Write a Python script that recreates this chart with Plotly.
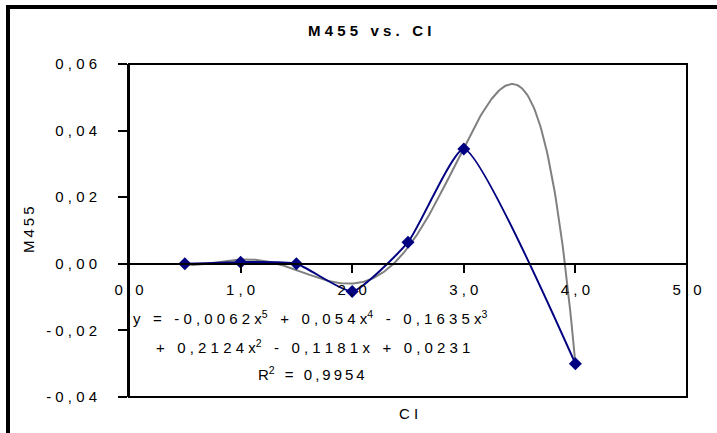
import numpy as np
import plotly.graph_objects as go

# Measured series
ci = [0.5, 1.0, 1.5, 2.0, 2.5, 3.0, 4.0]
m455 = [0.0, 0.0005, 0.0, -0.0083, 0.0065, 0.0345, -0.0300]

x_ticks = [0, 1, 2, 3, 4, 5]
y_ticks = [-0.04, -0.02, 0.0, 0.02, 0.04, 0.06]

title_text = "M455 vs. CI"
x_title = "CI"
y_title = "M455"
eq_line1 = [("y = -0,0062x", "5"), (" + 0,054x", "4"), (" - 0,1635x", "3")]
eq_line2 = [("+ 0,2124x", "2"), (" - 0,1181x + 0,0231", "")]
r2_line = [("R", "2"), (" = 0,9954", "")]

FONT = "Liberation Sans, Arial, sans-serif"
NAVY = "#000080"
GREY = "#808080"
WIDE = "\u00a0"     # letter gap for tracked text
NARROW = "\u2009"

# canvas / plot-area geometry in pixels
WIDTH, HEIGHT = 717, 433
ML, MR, MT, MB = 129, 30, 64, 36
PW = WIDTH - ML - MR
PH = HEIGHT - MT - MB


def px_x(px):
    return (px - ML) / PW


def px_y(py):
    return (HEIGHT - MB - py) / PH


def spaced(s, gap=WIDE):
    """Widely tracked text, in the style of the chart's lettering."""
    return gap.join("\u00a0" if c == " " else c for c in s)


def spaced_parts(parts, gap=WIDE):
    out = ""
    for txt, sup in parts:
        out += spaced(txt, gap)
        if sup:
            out += "<sup>" + sup + "</sup>" + gap
    return out.rstrip(gap)


def fmt(v, nd):
    return spaced(f"{v:.{nd}f}".replace(".", ","))


def label(text, px, py, **kw):
    return dict(text=text, x=px_x(px), y=px_y(py), xref="paper", yref="paper",
                xanchor="center", yanchor="middle", showarrow=False,
                font=dict(size=15), **kw)


# polynomial trendline (order 5) fitted to the measured points
coef = np.polyfit(ci, m455, 5)
xt = np.linspace(min(ci), max(ci), 300)
yt = np.polyval(coef, xt)

fig = go.Figure()
fig.add_trace(go.Scatter(
    x=xt, y=yt, mode="lines",
    line=dict(color=GREY, width=2),
    showlegend=False, hoverinfo="skip",
))
fig.add_trace(go.Scatter(
    x=ci, y=m455, mode="lines+markers",
    line=dict(color=NAVY, width=2, shape="spline", smoothing=0.5),
    marker=dict(symbol="diamond", size=10, color=NAVY),
    showlegend=False, hoverinfo="x+y",
))

zero_pos = (0 - y_ticks[0]) / (y_ticks[-1] - y_ticks[0])

fig.update_layout(
    width=WIDTH, height=HEIGHT,
    margin=dict(l=ML, r=MR, t=MT, b=MB, autoexpand=False),
    paper_bgcolor="white", plot_bgcolor="white",
    font=dict(family=FONT, size=15, color="black"),
    xaxis=dict(
        range=[x_ticks[0], x_ticks[-1]], tickvals=x_ticks,
        ticktext=[fmt(v, 1) for v in x_ticks],
        showgrid=False, zeroline=False, showline=True, linecolor="black", linewidth=2,
        ticks="outside", ticklen=8, tickwidth=2, tickcolor="black",
        anchor="free", position=zero_pos, ticklabelstandoff=4,
    ),
    yaxis=dict(
        range=[y_ticks[0], y_ticks[-1]], tickvals=y_ticks,
        ticktext=[fmt(v, 2) for v in y_ticks],
        showgrid=False, zeroline=False, showline=True, linecolor="black", linewidth=2,
        ticks="outside", ticklen=9, tickwidth=2, tickcolor="black",
        ticklabelstandoff=18,
    ),
    shapes=[
        # plot-area frame
        dict(type="rect", xref="x domain", yref="y domain", x0=0, x1=1, y0=0, y1=1,
             line=dict(color="black", width=2), layer="above"),
        # chart-area frame (left and top edges are inside the canvas)
        dict(type="line", xref="paper", yref="paper",
             x0=px_x(8), x1=px_x(8), y0=px_y(5), y1=px_y(HEIGHT + 5),
             line=dict(color="black", width=4)),
        dict(type="line", xref="paper", yref="paper",
             x0=px_x(6), x1=px_x(WIDTH + 5), y0=px_y(7), y1=px_y(7),
             line=dict(color="black", width=4)),
    ],
    annotations=[
        label("<b>" + spaced(title_text) + "</b>", 369, 31),
        label(spaced(x_title), 408, 413),
        label(spaced(y_title, NARROW), 28, 230, textangle=-90),
        label(spaced_parts(eq_line1), 310, 317),
        label(spaced_parts(eq_line2), 313, 346),
        label(spaced_parts(r2_line, NARROW), 311, 373),
    ],
)

fig.write_html("out.html")
